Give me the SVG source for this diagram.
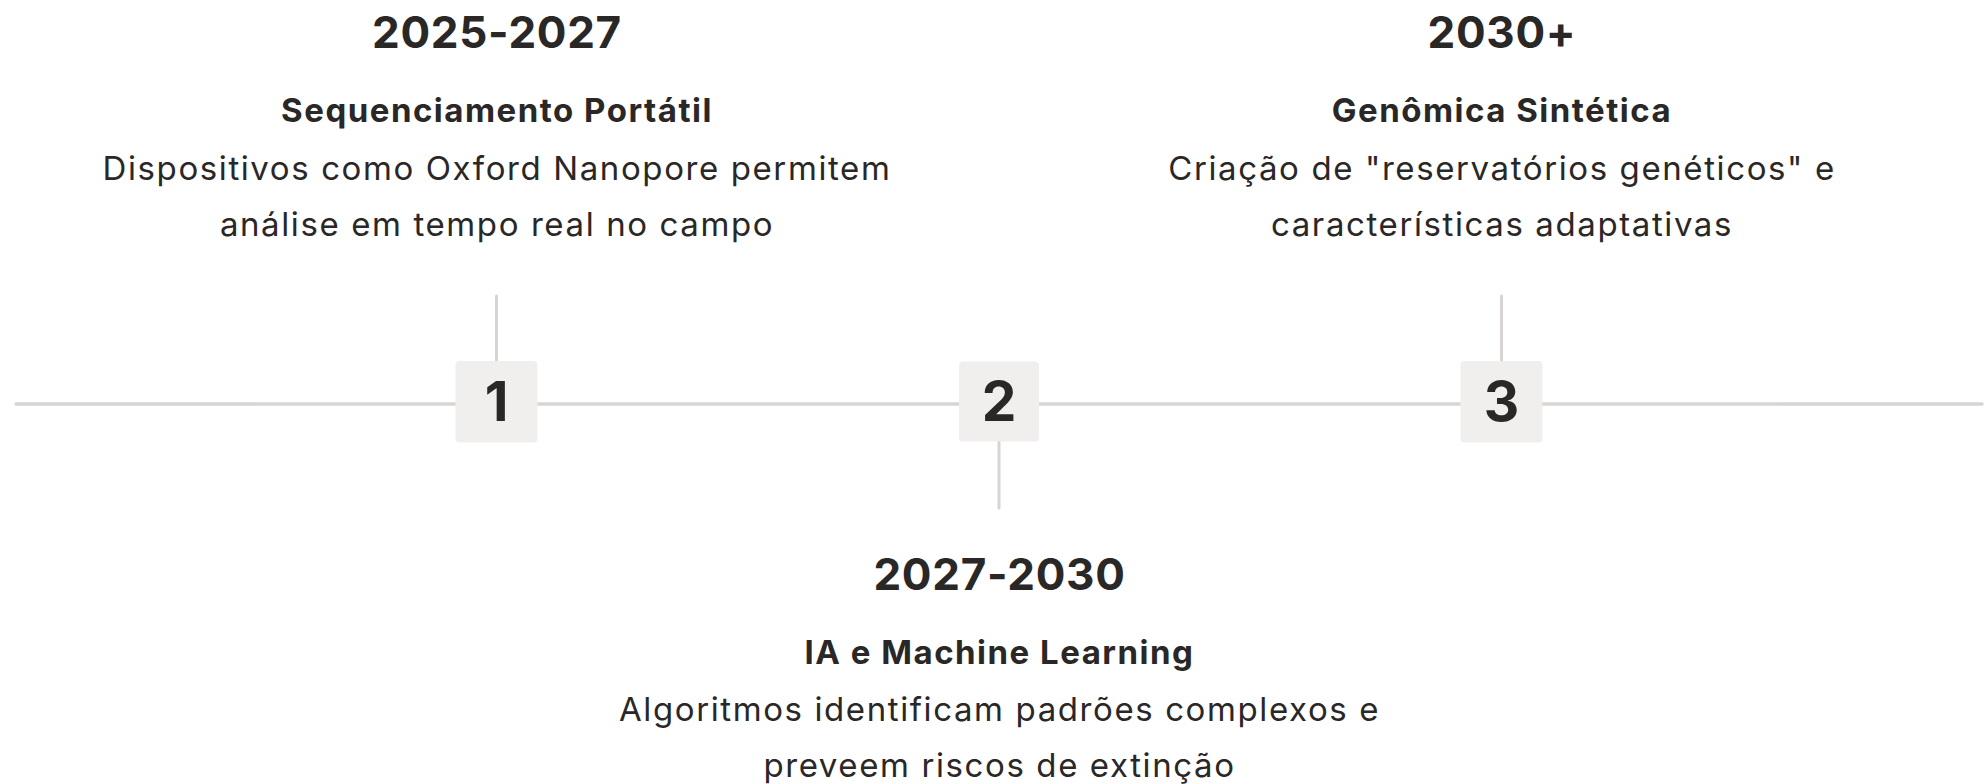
<svg xmlns="http://www.w3.org/2000/svg" width="1985" height="784" viewBox="0 0 1985 784">
<style>
text{font-family:Inter,"Noto Sans","Liberation Sans",sans-serif;fill:#2a2727;text-anchor:middle}
.yr{font-size:44px;font-weight:700;letter-spacing:0.7px}
.tt{font-size:33px;font-weight:700;letter-spacing:1.5px}
.ds{font-size:33px;font-weight:400;letter-spacing:1.6px}
.num{font-size:55px;font-weight:700}
.box{fill:#f1eeee}
.ln{stroke:#d8d4d4;stroke-linecap:round;fill:none}
</style>
<rect width="1985" height="784" fill="#ffffff"/>
<g id="connectors">
<line class="ln" x1="16" y1="404" x2="1982" y2="404" stroke-width="3.5"/>
<line class="ln" x1="496.5" y1="296" x2="496.5" y2="362" stroke-width="3"/>
<line class="ln" x1="999" y1="441" x2="999" y2="508" stroke-width="3"/>
<line class="ln" x1="1501.5" y1="296" x2="1501.5" y2="362" stroke-width="3"/>
</g>
<g id="node1">
<rect class="box" x="455.5" y="361" width="82" height="81.5" rx="4"/>
<text class="num" x="496.5" y="421">1</text>
<text class="yr" x="497" y="48">2025-2027</text>
<text class="tt" x="497" y="122">Sequenciamento Portátil</text>
<text class="ds" x="497" y="180">Dispositivos como Oxford Nanopore permitem</text>
<text class="ds" x="497" y="236">análise em tempo real no campo</text>
</g>
<g id="node2">
<rect class="box" x="959" y="361.5" width="80" height="80" rx="4"/>
<text class="num" x="999" y="421">2</text>
<text class="yr" x="999.5" y="590">2027-2030</text>
<text class="tt" x="999.5" y="664">IA e Machine Learning</text>
<text class="ds" x="999.5" y="721">Algoritmos identificam padrões complexos e</text>
<text class="ds" x="999.5" y="777">preveem riscos de extinção</text>
</g>
<g id="node3">
<rect class="box" x="1460.5" y="361" width="82" height="81.5" rx="4"/>
<text class="num" x="1501.5" y="421">3</text>
<text class="yr" x="1502" y="48">2030+</text>
<text class="tt" x="1502" y="122">Genômica Sintética</text>
<text class="ds" x="1502" y="180">Criação de "reservatórios genéticos" e</text>
<text class="ds" x="1502" y="236">características adaptativas</text>
</g>
</svg>
